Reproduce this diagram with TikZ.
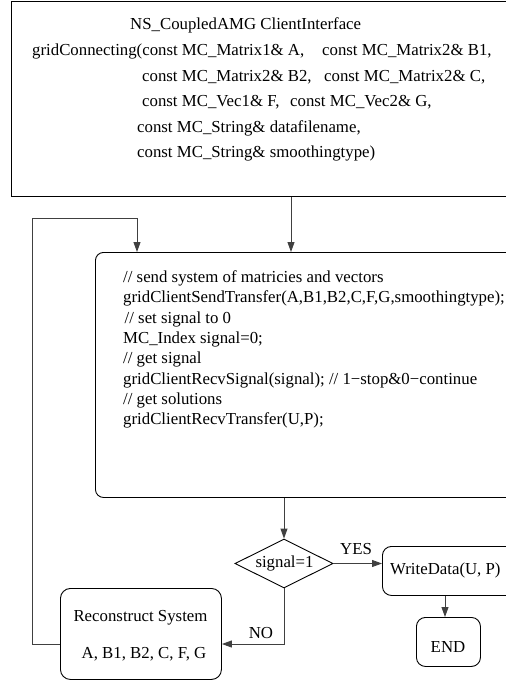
\documentclass[tikz,border=0pt]{standalone}
\usepackage{fontspec}
\setmainfont{Liberation Serif}
\usetikzlibrary{arrows.meta,shapes.geometric}
\begin{document}
\begin{tikzpicture}[x=1pt,y=-1pt,
  txt/.style={inner sep=0pt, anchor=base west, font=\fontsize{16.8}{20}\selectfont},
  ctxt/.style={inner sep=0pt, font=\fontsize{16.8}{20}\selectfont},
  box/.style={draw=black, line width=0.9pt, anchor=north west, inner sep=0pt},
  rbox/.style={box, rounded corners=9pt},
  arr/.style={draw=black!75, line width=0.9pt, -{Triangle[length=10pt,width=7pt]}}
]
\useasboundingbox (0,0) rectangle (506,683);
\clip (0,0) rectangle (506,683);

% procedure header
\node[box, minimum width=540pt, minimum height=195pt] (top) at (11,1) {};
\node[txt] (h1) at (130,29.5) {NS\_CoupledAMG ClientInterface};
\node[txt] (h2a) at (32,55.5) {gridConnecting(const MC\_Matrix1\& A,};
\node[txt] (h2b) at (322,55.5) {const MC\_Matrix2\& B1,};
\node[txt] (h3a) at (142,81) {const MC\_Matrix2\& B2,};
\node[txt] (h3b) at (324,81) {const MC\_Matrix2\& C,};
\node[txt] (h4a) at (142,106.5) {const MC\_Vec1\& F,};
\node[txt] (h4b) at (290,106.5) {const MC\_Vec2\& G,};
\node[txt] (h5) at (137,132) {const MC\_String\& datafilename,};
\node[txt] (h6) at (137,157.5) {const MC\_String\& smoothingtype)};

% client transfer block
\node[rbox, rounded corners=8pt, minimum width=460pt, minimum height=245pt] (main) at (95,252) {};
\node[txt] (m1) at (123,282.5) {// send system of matricies and vectors};
\node[txt] (m2) at (123,302.8) {gridClientSendTransfer(A,B1,B2,C,F,G,smoothingtype);};
\node[txt] (m3) at (124.5,323.1) {// set signal to 0};
\node[txt] (m4) at (123,343.4) {MC\_Index signal=0;};
\node[txt] (m5) at (123,363.7) {// get signal};
\node[txt] (m6) at (123,384.0) {gridClientRecvSignal(signal); // 1−stop\&0−continue};
\node[txt] (m7) at (123,404.3) {// get solutions};
\node[txt] (m8) at (123,424.6) {gridClientRecvTransfer(U,P);};

% decision
\node[draw=black, line width=0.9pt, diamond, minimum width=98pt, minimum height=49pt, inner sep=0pt] (dec) at (284,563.5) {};
\node[ctxt] (dect) at (284.5,563) {signal=1};

% output branch
\node[rbox, minimum width=160pt, minimum height=49pt] (wd) at (382,546) {};
\node[ctxt, anchor=west] (wdt) at (390,570) {WriteData(U, P)};
\node[rbox, minimum width=64pt, minimum height=49pt] (fin) at (416,617) {};
\node[ctxt] (fint) at (448,647) {END};

% rebuild branch
\node[rbox, rounded corners=10pt, minimum width=161pt, minimum height=91pt] (rec) at (60,588) {};
\node[ctxt] (rect1) at (140.5,618) {Reconstruct System};
\node[ctxt] (rect2) at (144,654) {A, B1, B2, C, F, G};

% labels
\node[ctxt] (yes) at (356,549) {YES};
\node[ctxt] (no) at (261,633) {NO};

% connectors
\draw[arr] (291,0 |- top.south) -- (291,0 |- main.north);
\draw[arr] (dec.north |- main.south) -- (dec.north);
\draw[arr] (dec.east) -- (dec.east -| wd.west);
\draw[arr] (445,0 |- wd.south) -- (445,0 |- fin.north);
\draw[arr] (dec.south) |- (rec.east |- 0,644);
\draw[arr] (rec.west |- 0,644) -- (32,644) -- (32,218) -- (137,218) -- (137,0 |- main.north);
\end{tikzpicture}
\end{document}
